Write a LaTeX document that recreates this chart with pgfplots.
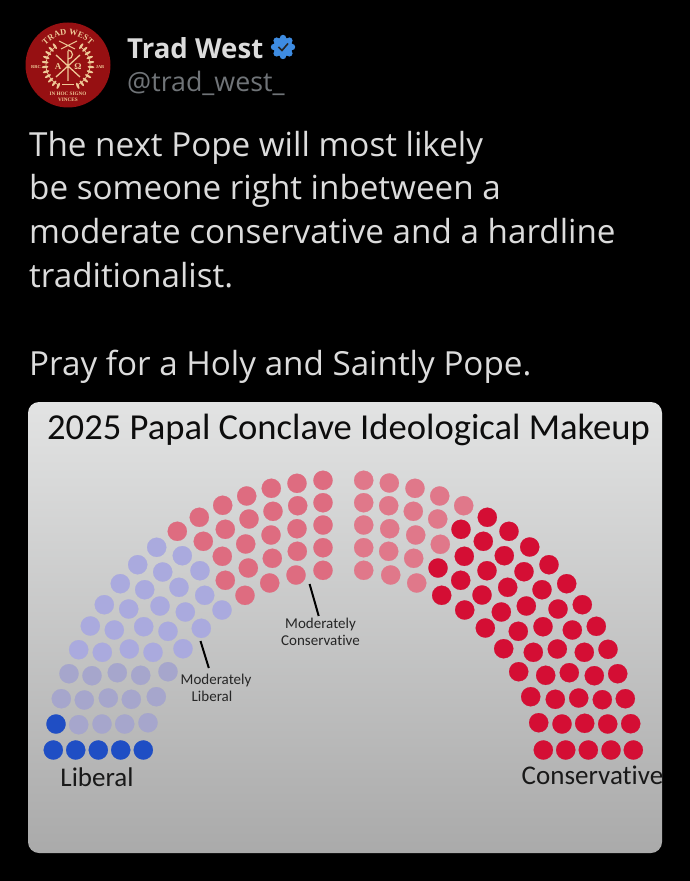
\documentclass[border=0pt]{standalone}
\usepackage{fontspec}
\usepackage{pgfplots}
\pgfplotsset{compat=1.18}
\usetikzlibrary{decorations.text}
\setmainfont{Open Sans}
\newfontfamily\carlito[Ligatures=NoCommon]{Carlito}
\newfontfamily\lserif{Liberation Serif}
\definecolor{bluedot}{RGB}{31,78,196}
\definecolor{lavA}{RGB}{170,170,222}
\definecolor{lavB}{RGB}{166,166,204}
\definecolor{pinkA}{RGB}{222,108,128}
\definecolor{pinkB}{RGB}{224,120,138}
\definecolor{reddot}{RGB}{212,14,52}
\definecolor{tw}{RGB}{220,220,220}
\definecolor{hand}{RGB}{112,116,120}
\definecolor{logored}{RGB}{150,16,18}
\definecolor{gold}{RGB}{238,200,150}
\definecolor{badge}{RGB}{62,140,226}
\pgfplotsset{dots/.style={only marks,mark=*,mark size=9.6pt,color=#1,mark options={fill=#1,draw=#1,line width=.2pt}}}
\begin{document}
\begin{tikzpicture}
\fill[black] (0pt,0pt) rectangle (690pt,881pt);
\begin{axis}[at={(0pt,0pt)},anchor=south west,width=690pt,height=881pt,scale only axis,
  xmin=0,xmax=690,ymin=0,ymax=881,y dir=reverse,hide axis,clip=false]
\fill[top color={rgb,255:red,226;green,227;blue,227},middle color={rgb,255:red,207;green,207;blue,208},bottom color={rgb,255:red,170;green,170;blue,170},rounded corners=11pt]
  (axis cs:28,402) rectangle (axis cs:662,853);
\addplot[dots=bluedot] coordinates {
(53.3,750)(75.7,750)(98.3,750)(120.7,750)(143.3,750)(56,724)};
\addplot[dots=lavB] coordinates {
(78.7,724.7)(102,724)(124.7,724)(148,722.7)
(61.3,698.7)(84.3,700)(108.3,698)(131.3,699.3)(156.3,696.7)
(69,673.7)(92,675.7)(117.3,672.7)(140.7,675.3)(168,671.7)};
\addplot[dots=lavA] coordinates {
(78.7,649.7)(102.3,652.3)(129.3,649)(153,652.3)(183,648.7)
(90.3,626)(114.3,630)(143.7,626.7)(168,631.3)(201.3,628.3)
(104.3,604.7)(128.7,609)(160,606)(185.3,612)(222,610)
(120.3,583.7)(144.7,589.7)(179,587.3)(204.7,595.3)
(137.7,564.7)(162.7,572)(200,570.7)
(156.7,547.3)(182.3,555.7)};
\addplot[dots=pinkA] coordinates {
(177.3,531.3)(199.3,517.3)(222.7,505.3)(246.7,496)(271.3,488.3)(297,483.3)(323,480.3)
(203.3,541.3)(225.3,529.3)(249,519)(273,511.3)(297.7,505.7)(323,502.7)
(222.3,556.3)(245.7,544)(271,535)(297,528.7)(323,525)
(225.3,580.3)(248.3,568)(272.3,558.3)(297.3,551.3)(323,547.7)
(245,595.3)(269.7,583)(296,575)(323,570.3)};
\addplot[dots=pinkB] coordinates {
(363.7,480.3)(389.3,483)(415,488.3)(439.7,496)(463.7,505.7)
(363.7,502.7)(388.7,505.7)(413.3,511.3)(437.7,519)
(363.7,525)(389.7,528.7)(415.7,535)(440.3,544.3)
(363.7,547.7)(388.7,551.3)(413.7,558.3)
(363.7,570.3)(390.7,575)(416.7,583)};
\addplot[dots=reddot] coordinates {
(487.3,517.3)(509,531.3)(529.7,547)(549,564.7)(566.7,583.7)(582.3,604.7)(596.3,626.3)(608,649.3)(617.7,673.7)(625.3,698.7)(630.7,723.7)(633.3,750)
(461,529.3)(483.3,541.3)(504.3,555.7)(524,571.7)(542,589.7)(558,609)(572.3,630)(584.3,652.3)(594.3,675.7)(602.3,699.7)(607.7,724)(611,750)
(438,568)(464.3,556.3)(487,570.7)(507.7,587.3)(526.3,606)(543,626.7)(557.3,649)(569.3,672.7)(578.7,698)(584.7,723.3)(588.3,750)
(460.7,580.3)(482,595)(501.3,612)(518.3,631.3)(533.3,652.3)(545.7,675.3)(555.3,699.3)(562,724)(565.7,750)
(441.7,595.3)(464.7,610)(485.3,628)(503.7,648.7)(518.7,671.7)(530.7,696.7)(538.7,722.7)(543.3,750)};
\addplot[black,line width=2pt] coordinates {(200.5,641)(208.8,668)};
\addplot[black,line width=2pt] coordinates {(309.6,584)(318.7,616)};
\node[anchor=base,inner sep=0pt,font=\carlito\fontsize{36.6}{36.6}\selectfont,black!95] at (axis cs:348.5,439) {2025 Papal Conclave Ideological Makeup};
\node[anchor=base,inner sep=0pt,font=\carlito\fontsize{15}{15}\selectfont,black!85] at (axis cs:216,684) {Moderately};
\node[anchor=base,inner sep=0pt,font=\carlito\fontsize{15}{15}\selectfont,black!85] at (axis cs:212,701) {Liberal};
\node[anchor=base,inner sep=0pt,font=\carlito\fontsize{15}{15}\selectfont,black!85] at (axis cs:320.5,628) {Moderately};
\node[anchor=base,inner sep=0pt,font=\carlito\fontsize{15}{15}\selectfont,black!85] at (axis cs:320.5,645) {Conservative};
\node[anchor=base,inner sep=0pt,font=\carlito\fontsize{27}{27}\selectfont,black!90] at (axis cs:97,786.5) {Liberal};
\node[anchor=base,inner sep=0pt,font=\carlito\fontsize{27}{27}\selectfont,black!90] at (axis cs:592.5,784) {Conservative};
\foreach \t/\y in {{The next Pope will most likely}/156,{be someone right inbetween a}/199,{moderate conservative and a hardline}/243,{traditionalist.}/287,{Pray for a Holy and Saintly Pope.}/375}{
  \edef\tmp{\noexpand\node[anchor=base west,inner sep=0pt,font=\noexpand\fontsize{33.2}{33.2}\noexpand\selectfont,text=tw] at (axis cs:29,\y) {\t};}\tmp
}
\node[anchor=base west,inner sep=0pt,font=\bfseries\fontsize{27.6}{28}\selectfont,text=tw] at (axis cs:127,58) {Trad West};
\node[anchor=base west,inner sep=0pt,font=\fontsize{26.8}{28}\selectfont,text=hand] at (axis cs:127,91) {@trad\_west\_};
\end{axis}
% avatar: pixel (x,y) -> (x, 881-y)
\begin{scope}[x=1pt,y=1pt,shift={(68pt,816pt)}]
\fill[logored] (0,0) circle (42.5);
\path[decorate,decoration={text along path,text align=center,text={|\lserif\bfseries\fontsize{8.5}{8.5}\selectfont\color{gold}|TRAD WEST}}] (160:30) arc (160:20:30);
% laurels
\foreach \a in {125,137,...,245}{\fill[gold,rotate=\a] (23,0) ellipse (3.4 and 1.2);}
\foreach \a in {-65,-53,...,55}{\fill[gold,rotate=\a] (23,0) ellipse (3.4 and 1.2);}
\draw[gold,line width=.7pt] (125:22)arc(125:245:22) (-65:22)arc(-65:55:22);
% crossed swords
\draw[gold,line width=1pt] (-9,24)--(7,16) (9,24)--(-7,16);
% chi-rho
\draw[gold,line width=1.3pt] (-12,10)--(12,-12) (12,10)--(-12,-12) (0,14)--(0,-16);
\draw[gold,line width=1.2pt] (0,15) arc (90:-90:4.5);
\node[font=\lserif\bfseries\fontsize{9}{9}\selectfont,text=gold,inner sep=0pt] at (-10,-2) {Α};
\node[font=\lserif\bfseries\fontsize{9}{9}\selectfont,text=gold,inner sep=0pt] at (10,-2) {Ω};
\draw[gold,line width=.8pt] (-6,-19)--(6,-19);
\node[font=\lserif\bfseries\fontsize{4.5}{4.5}\selectfont,text=gold,inner sep=0pt] at (-32,-2) {RRC};
\node[font=\lserif\bfseries\fontsize{4.5}{4.5}\selectfont,text=gold,inner sep=0pt] at (32,-2) {JAB};
\node[font=\lserif\bfseries\fontsize{5.2}{5.2}\selectfont,text=gold,inner sep=0pt] at (0,-28.5) {IN HOC SIGNO};
\node[font=\lserif\bfseries\fontsize{5.2}{5.2}\selectfont,text=gold,inner sep=0pt] at (0,-35) {VINCES};
\end{scope}
% badge
\begin{scope}[x=1pt,y=1pt,shift={(283pt,834pt)}]
\fill[badge] (0,0) circle (9.5);
\foreach \a in {0,45,...,315}{\fill[badge,rotate=\a] (9,0) circle (3.2);}
\draw[black!85,line width=1.6pt] (-4.5,0)--(-1,-3.5)--(5,3.5);
\end{scope}
\end{tikzpicture}
\end{document}
